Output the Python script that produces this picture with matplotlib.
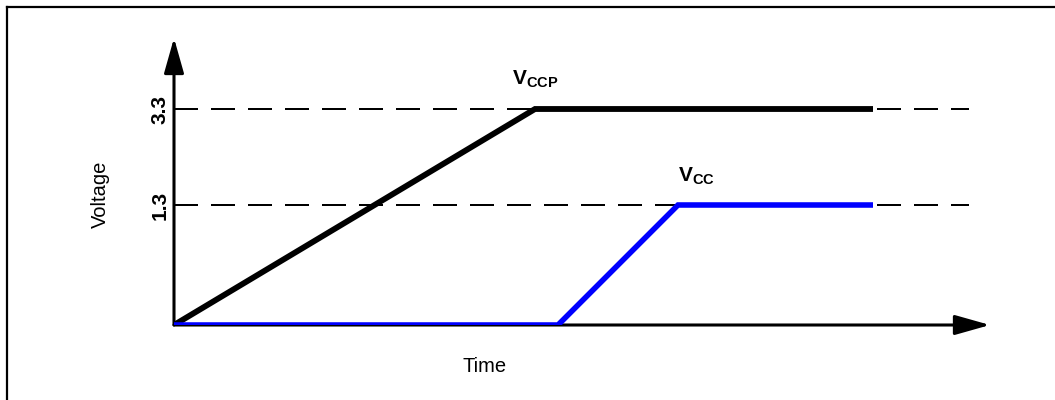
import numpy as np
import matplotlib
matplotlib.use("Agg")
import matplotlib.pyplot as plt
from matplotlib.lines import Line2D

plt.rcParams['font.family'] = ['Liberation Sans', 'DejaVu Sans']
plt.rcParams['mathtext.fontset'] = 'custom'
plt.rcParams['mathtext.rm'] = 'Liberation Sans'
plt.rcParams['mathtext.bf'] = 'Liberation Sans:bold'

# schematic power-up sequence (time in arbitrary units)
time_ccp = [0, 3.61, 6.99]
volt_ccp = [0, 3.3, 3.3]
time_cc = [0, 3.84, 5.04, 6.99]
volt_cc = [0, 0, 1.3, 1.3]
ref_levels = [1.3, 3.3]
ref_labels = ['1.3', '3.3']
ref_end = 7.95

# the drawing is not to scale: piecewise-linear voltage axis
knots_v = [0, 1.3, 3.3, 5.0]
knots_h = [0, 120, 216, 297.6]


def fwd(v):
    return np.interp(v, knots_v, knots_h)


def inv(h):
    return np.interp(h, knots_h, knots_v)


W, H = 1055, 400
fig = plt.figure(figsize=(W / 100, H / 100), dpi=100)
ax = fig.add_axes([174 / W, (H - 325) / H, (990 - 174) / W, (325 - 38) / H])
ax.set_yscale('function', functions=(fwd, inv))
ax.set_xlim(0, 8.16)
ax.set_ylim(0, inv(287))
for s in ax.spines.values():
    s.set_visible(False)
ax.patch.set_visible(False)

# axes with arrow heads
arrow = dict(arrowstyle='-|>,head_length=21.6,head_width=6.1', mutation_scale=1,
             lw=2.2, color='black', shrinkA=0, shrinkB=0)
ax.annotate('', xy=(1, 0), xytext=(0, 0), xycoords='axes fraction', arrowprops=arrow)
ax.annotate('', xy=(0, 1), xytext=(0, 0), xycoords='axes fraction', arrowprops=arrow)

# dashed reference levels
for lv in ref_levels:
    ax.plot([0, ref_end], [lv, lv], color='black', lw=1.44, dashes=(12, 6.5),
            solid_capstyle='butt', dash_capstyle='butt')

ax.plot(time_ccp, volt_ccp, color='black', lw=4.2, solid_joinstyle='miter',
        solid_capstyle='butt', zorder=3)
ax.plot(time_cc, volt_cc, color='#0000ff', lw=4.0, solid_joinstyle='miter',
        solid_capstyle='butt', zorder=4)

ax.annotate(r'$\mathbf{V_{CCP}}$', xy=(time_ccp[1], volt_ccp[1]), xytext=(0, 13.5),
            textcoords='offset points', ha='center', va='bottom', fontsize=15)
ax.annotate(r'$\mathbf{V_{CC}}$', xy=(time_cc[2], volt_cc[2]), xytext=(0, 13),
            textcoords='offset points', ha='left', va='bottom', fontsize=15)

ax.set_xticks([])
ax.set_yticks(ref_levels)
ax.set_yticklabels(ref_labels, rotation=90, va='center', fontweight='bold', fontsize=15)
ax.tick_params(axis='y', length=0, pad=3)

fig.text(100 / W, 1 - 194 / H, 'Voltage', rotation=90, ha='center', va='center', fontsize=14.5)
fig.text(485 / W, 1 - 366 / H, 'Time', ha='center', va='center', fontsize=14.5)

# frame lines (top and left only)
fig.add_artist(Line2D([7 / W, 1], [1 - 7 / H, 1 - 7 / H], color='black', lw=1.6))
fig.add_artist(Line2D([7 / W, 7 / W], [0, 1 - 7 / H], color='black', lw=1.6))

fig.savefig('out.png', dpi=100)
